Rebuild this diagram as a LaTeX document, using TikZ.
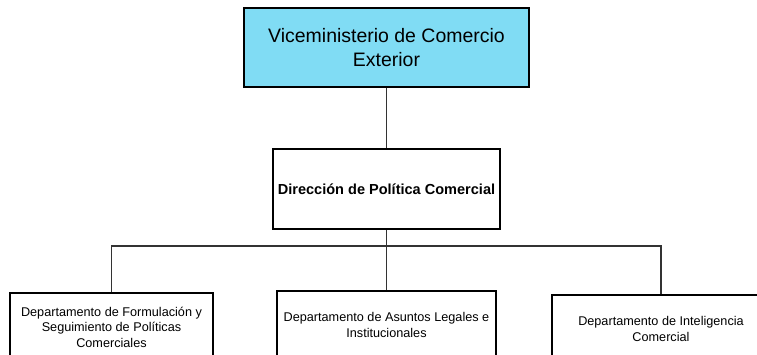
\documentclass[tikz,border=0pt]{standalone}
\usepackage{fontspec}
\setmainfont{Liberation Sans}
\usepackage{tikz}
\usetikzlibrary{positioning}
\definecolor{vmCyan}{HTML}{80DCF4}
\definecolor{linkGray}{HTML}{333333}

\begin{document}
\begin{tikzpicture}[x=0.75pt,y=0.75pt,
  topbox/.style={draw,fill=vmCyan,line width=0.8pt,minimum width=213.75pt,minimum height=59.25pt,
    align=center,inner sep=0pt,font=\fontsize{14.6pt}{18pt}\selectfont},
  dirbox/.style={draw,line width=1.8pt,minimum width=170.25pt,minimum height=60pt,
    align=center,inner sep=0pt,font=\fontsize{10.9pt}{13pt}\selectfont\bfseries},
  dptbox/.style={draw,line width=0.8pt,minimum height=51pt,
    align=center,inner sep=0pt,font=\fontsize{9.5pt}{11.6pt}\selectfont},
  link/.style={draw=linkGray,line width=0.8pt}]
  \useasboundingbox (0,0) rectangle (757,354);
  \clip (0,0) rectangle (757,354);
% --- jerarquia ---
  \node[topbox] (vicemin) at (386.5,306.5) {Viceministerio de Comercio\\Exterior};
  \node[dirbox] (direccion) at (386.5,165) {Dirección de Política Comercial};
  \coordinate (bar) at (386.5,108);
% --- departamentos ---
  \node[dptbox,minimum width=152.25pt] (formul) at (111.5,27)
    {Departamento de Formulación y\\Seguimiento de Políticas\\Comerciales};
  \node[dptbox,minimum width=164.25pt] (asuntos) at (386.5,29)
    {Departamento de Asuntos Legales e\\Institucionales};
  \node[dptbox,minimum width=163.5pt] (intel) at (661,25)
    {Departamento de Inteligencia\\Comercial};
% --- conectores ---
  \draw[link] (vicemin) -- (direccion);
  \draw[link] (direccion) -- (bar);
  \draw[link] (formul.north) |- (bar) -| (intel.north);
  \draw[link] (bar) -- (asuntos.north);
\end{tikzpicture}
\end{document}
